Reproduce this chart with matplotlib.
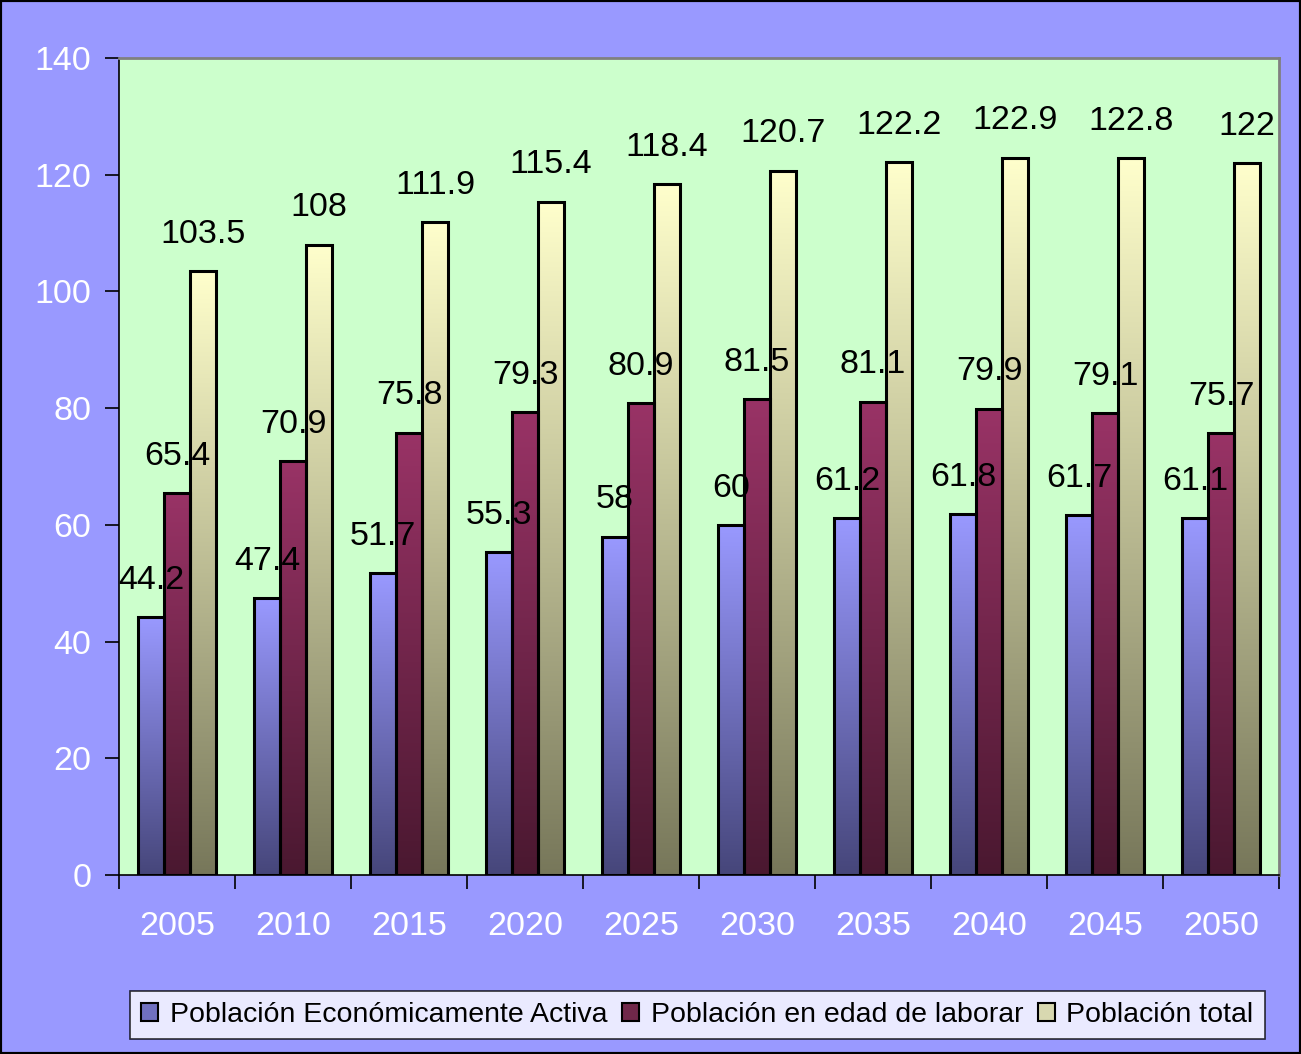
import matplotlib
matplotlib.use("Agg")
import matplotlib.pyplot as plt
import numpy as np
from matplotlib.colors import LinearSegmentedColormap
from matplotlib.patches import Rectangle, Patch

plt.rcParams['font.family'] = ['Liberation Sans', 'DejaVu Sans']

years = ["2005", "2010", "2015", "2020", "2025", "2030", "2035", "2040", "2045", "2050"]
pea = [44.2, 47.4, 51.7, 55.3, 58, 60, 61.2, 61.8, 61.7, 61.1]
edad_laborar = [65.4, 70.9, 75.8, 79.3, 80.9, 81.5, 81.1, 79.9, 79.1, 75.7]
total = [103.5, 108, 111.9, 115.4, 118.4, 120.7, 122.2, 122.9, 122.8, 122]
labels_pea = ["44.2", "47.4", "51.7", "55.3", "58", "60", "61.2", "61.8", "61.7", "61.1"]
labels_edad = ["65.4", "70.9", "75.8", "79.3", "80.9", "81.5", "81.1", "79.9", "79.1", "75.7"]
labels_total = ["103.5", "108", "111.9", "115.4", "118.4", "120.7", "122.2", "122.9", "122.8", "122"]
series_names = ["Población Económicamente Activa", "Población en edad de laborar", "Población total"]

top_colors = ["#9999FF", "#993366", "#FFFFCC"]
bot_colors = ["#46467A", "#4A1830", "#77775A"]
legend_colors = ["#7070C0", "#70284A", "#D8D8B0"]

fig = plt.figure(figsize=(13.01, 10.54), dpi=100, facecolor="#9999FF")
ax = fig.add_axes([119/1301, 1 - 875/1054, (1279-119)/1301, (875-58)/1054])
ax.set_facecolor("#CCFFCC")

x = np.arange(len(years))
w = 0.225
data = [pea, edad_laborar, total]
labs = [labels_pea, labels_edad, labels_total]
grad = np.linspace(0, 1, 256).reshape(-1, 1)
for i, (vals, lb) in enumerate(zip(data, labs)):
    offs = (i - 1) * w
    bars = ax.bar(x + offs, vals, w, facecolor="none", edgecolor="black", linewidth=2.2, zorder=3,
                  label=series_names[i])
    cmap = LinearSegmentedColormap.from_list("g%d" % i, [bot_colors[i], top_colors[i]])
    for b in bars:
        bx, by = b.get_x(), b.get_y()
        bw, bh = b.get_width(), b.get_height()
        im = ax.imshow(grad, extent=[bx, bx + bw, by, by + bh], origin="lower", cmap=cmap,
                       aspect="auto", zorder=2, interpolation="bilinear")
        im.set_clip_path(b)
    for xi, v, t in zip(x + offs, vals, lb):
        ax.annotate(t, (xi, v), xytext=(0, 26.5), textcoords="offset points", ha="center",
                    va="center", fontsize=24.5, color="black", zorder=5)

ax.set_xlim(-0.5, len(years) - 0.5)
ax.set_ylim(0, 140)
ax.set_yticks(np.arange(0, 141, 20))
ax.set_yticklabels([str(v) for v in range(0, 141, 20)], fontsize=24.5, color="white")
ax.set_xticks(x)
ax.set_xticklabels(years, fontsize=24.5, color="white")
ax.tick_params(axis="x", length=0, pad=26)
ax.set_xticks(np.arange(-0.5, len(years), 1), minor=True)
ax.tick_params(axis="x", which="minor", length=10, width=1.2, color="black", direction="out")
ax.tick_params(axis="y", length=10, width=1.2, color="black", pad=10)
for s in ["top", "right"]:
    ax.spines[s].set_color("#808080")
    ax.spines[s].set_linewidth(2)
for s in ["left", "bottom"]:
    ax.spines[s].set_color("black")
    ax.spines[s].set_linewidth(1.2)

handles = [Patch(facecolor=legend_colors[i], edgecolor="black", linewidth=1.5) for i in range(3)]
leg = fig.legend(handles, series_names, loc="center", ncol=3,
                 bbox_to_anchor=(130/1301, 11/1054, 1135/1301, 56/1054), mode="expand",
                 fontsize=20.5, frameon=True, fancybox=False, shadow=False, handlelength=0.6,
                 handleheight=0.6, handletextpad=0.4, columnspacing=0.6, borderaxespad=0)
leg.get_frame().set_edgecolor("black")
leg.get_frame().set_linewidth(1.2)
leg.get_frame().set_facecolor("white")

fig.patches.append(Rectangle((0, 0), 1, 1, transform=fig.transFigure, fill=False,
                             edgecolor="black", linewidth=3, zorder=10))

fig.savefig("out.png", dpi=100, facecolor=fig.get_facecolor())
